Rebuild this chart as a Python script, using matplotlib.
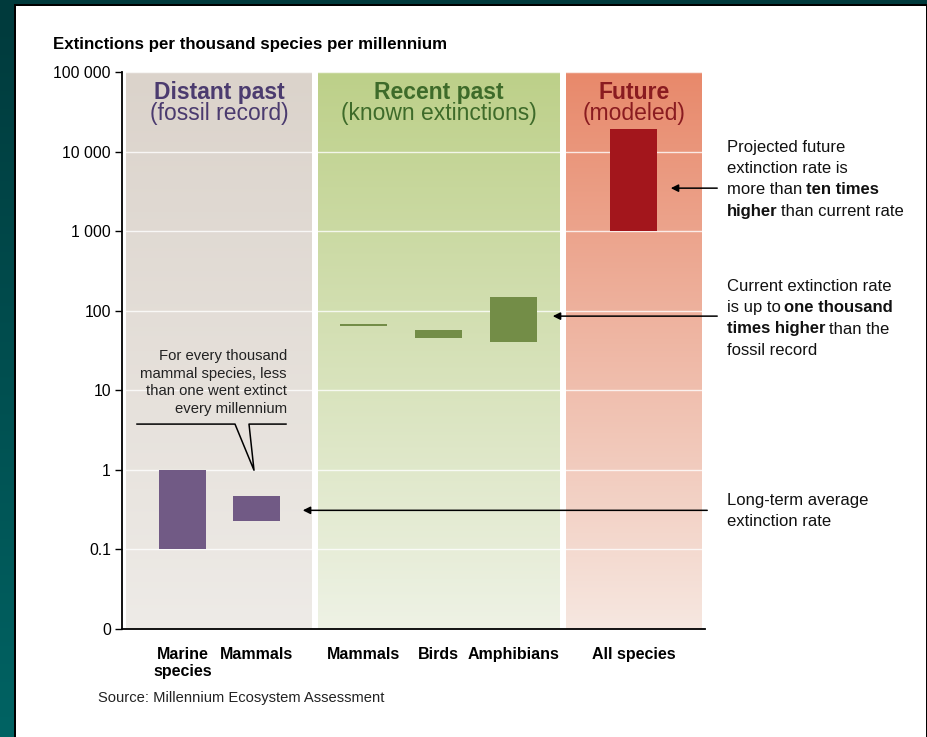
import numpy as np
import matplotlib.pyplot as plt
from matplotlib.colors import LinearSegmentedColormap
from matplotlib.patches import Rectangle
from matplotlib.offsetbox import TextArea, HPacker, VPacker, AnnotationBbox

plt.rcParams['font.family'] = ['Liberation Sans', 'DejaVu Sans']

# extinction rates (per thousand species per millennium), low/high end of each range
categories = ['Marine\nspecies', 'Mammals', 'Mammals', 'Birds', 'Amphibians', 'All species']
rate_low = [0.1, 0.23, 65, 45, 41, 1000]
rate_high = [1.0, 0.47, 69, 58, 150, 19000]
bar_colors = ['#715a85', '#715a85', '#738d47', '#738d47', '#738d47', '#a3161c']

periods = ['Distant past', 'Recent past', 'Future']
period_notes = ['(fossil record)', '(known extinctions)', '(modeled)']
period_colors = ['#4b3b6f', '#3e6b2a', '#8a1b20']
period_shades = [('#eeebe7', '#dbd3cb'), ('#eef2e5', '#bdd089'), ('#f6e7e0', '#e8896b')]

yticks = [0.01, 0.1, 1, 10, 100, 1000, 10000, 100000]
ytick_labels = ['0', '0.1', '1', '10', '100', '1 000', '10 000', '100 000']

# layout (x in axis units)
x_pos = [1.21, 2.69, 4.84, 6.33, 7.83, 10.23]
bar_w = 0.94
period_spans = [(0.08, 3.8), (3.92, 8.76), (8.88, 11.6)]
XMAX = 11.66

W, H = 928, 737
fig = plt.figure(figsize=(W / 100, H / 100), dpi=100)

# dark teal frame + white panel
frame = fig.add_axes([0, 0, 1, 1], zorder=-5)
frame.imshow(np.linspace(0, 1, 256).reshape(-1, 1), origin='lower', aspect='auto',
             cmap=LinearSegmentedColormap.from_list('frame', ['#006363', '#003a3c']),
             extent=(0, 1, 0, 1))
frame.set_xlim(0, 1)
frame.set_ylim(0, 1)
frame.axis('off')
frame.add_patch(Rectangle((14 / W, 0), 914 / W, 733 / H, color='black', lw=0))
frame.add_patch(Rectangle((16 / W, 0), 910 / W, 731 / H, color='white', lw=0))

rect = [122 / W, (H - 629) / H, (705 - 122) / W, (629 - 72) / H]

# gradient backgrounds for the three periods
bg = fig.add_axes(rect, zorder=0)
grad = np.linspace(0, 1, 256).reshape(-1, 1)
for (x0, x1), (c_bot, c_top) in zip(period_spans, period_shades):
    cm = LinearSegmentedColormap.from_list('shade', [c_bot, c_top])
    bg.imshow(grad, origin='lower', aspect='auto', cmap=cm, extent=(x0, x1, 0, 1))
bg.set_xlim(0, XMAX)
bg.set_ylim(0, 1)
bg.axis('off')

ax = fig.add_axes(rect, zorder=1)
ax.patch.set_visible(False)
ax.set_yscale('log')
ax.set_xlim(0, XMAX)
ax.set_ylim(0.01, 100000)

heights = np.array(rate_high) - np.array(rate_low)
ax.bar(x_pos, heights, bottom=rate_low, width=bar_w, color=bar_colors, zorder=3)

ax.set_yticks(yticks)
ax.set_yticklabels(ytick_labels, fontsize=11.3)
ax.yaxis.set_minor_locator(plt.NullLocator())
ax.tick_params(axis='y', length=5, width=1, pad=3)
ax.set_xticks(x_pos)
ax.set_xticklabels(categories, fontsize=11.5, fontweight='bold', linespacing=1.15)
ax.tick_params(axis='x', length=0, pad=13)
ax.yaxis.grid(True, color='white', lw=1, alpha=0.8)
ax.set_axisbelow(True)
for s in ['top', 'right']:
    ax.spines[s].set_visible(False)
for s in ['left', 'bottom']:
    ax.spines[s].set_linewidth(1.3)

# period headers
for (x0, x1), name, note, col in zip(period_spans, periods, period_notes, period_colors):
    xc = (x0 + x1) / 2
    ax.annotate(name, (xc, 0.963), xycoords=('data', 'axes fraction'), ha='center', va='center',
                fontsize=16.5, fontweight='bold', color=col)
    ax.annotate(note, (xc, 0.925), xycoords=('data', 'axes fraction'), ha='center', va='center',
                fontsize=16.5, color=col)

# callout over the fossil mammals
ax.plot([0.3, 2.26, 2.64, 2.54, 3.28], [3.76, 3.76, 0.99, 3.76, 3.76], color='black', lw=1.1,
        zorder=4)
ax.text(3.3, 33, 'For every thousand\nmammal species, less\nthan one went extinct\nevery millennium',
        ha='right', va='top', fontsize=10.75, linespacing=1.33, color='#222222')

# arrows to the side notes
arrow = dict(arrowstyle='-|>', color='black', lw=1.1, mutation_scale=11)
ax.annotate('', xy=(10.92, 3470), xytext=(11.96, 3470), arrowprops=arrow, annotation_clip=False)
ax.annotate('', xy=(8.56, 85.5), xytext=(11.96, 85.5), arrowprops=arrow, annotation_clip=False)
ax.annotate('', xy=(3.56, 0.31), xytext=(11.76, 0.31), arrowprops=arrow, annotation_clip=False)


def rich_block(lines, x_px, y_px, size=12):
    rows = []
    for parts in lines:
        areas = [TextArea(t, textprops=dict(fontsize=size, fontweight=('bold' if b else 'normal'),
                                            color='#111111'))
                 for t, b in parts]
        rows.append(HPacker(children=areas, sep=2.5, pad=0, align='baseline'))
    box = VPacker(children=rows, sep=4.5, pad=0, align='left')
    ab = AnnotationBbox(box, (x_px, H - y_px), xycoords='figure pixels', box_alignment=(0, 1),
                        frameon=False, pad=0)
    fig.add_artist(ab)


rich_block([[('Projected future', False)],
            [('extinction rate is', False)],
            [('more than', False), ('ten times', True)],
            [('higher', True), ('than current rate', False)]], 727, 140)
rich_block([[('Current extinction rate', False)],
            [('is up to', False), ('one thousand', True)],
            [('times higher', True), ('than the', False)],
            [('fossil record', False)]], 727, 279)
rich_block([[('Long-term average', False)],
            [('extinction rate', False)]], 727, 493)

fig.text(53 / W, (H - 45) / H, 'Extinctions per thousand species per millennium', fontsize=12.2,
         fontweight='bold', va='center', ha='left')
fig.text(98 / W, (H - 698) / H, 'Source: Millennium Ecosystem Assessment', fontsize=10.6,
         va='center', ha='left', color='#222222')

fig.savefig('out.png', dpi=100)
